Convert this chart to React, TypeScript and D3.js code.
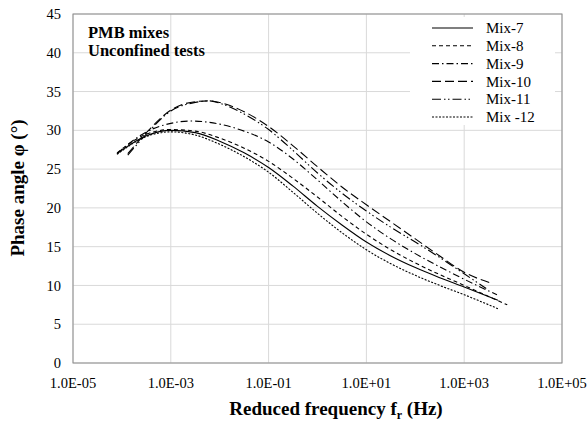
import React from "react";
import * as d3 from "d3";

// log10(reduced frequency) and phase angle values for each mix
const mix7L = [-4.1, -3.5, -3.0, -2.5, -2.0, -1.5, -1.0, -0.5, 0.0, 0.5, 1.0, 1.5, 2.0, 2.5, 3.0, 3.69];
const mix7P = [27.0, 29.3, 30.0, 29.7, 28.6, 27.1, 25.2, 22.8, 20.2, 17.8, 15.6, 13.8, 12.3, 11.0, 9.8, 8.1];
const mix8L = [-4.1, -3.5, -3.0, -2.5, -2.0, -1.5, -1.0, -0.5, 0.0, 0.5, 1.0, 1.5, 2.0, 2.5, 3.0, 3.88];
const mix8P = [27.1, 29.5, 30.1, 29.9, 29.0, 27.7, 26.0, 23.8, 21.4, 18.9, 16.6, 14.6, 12.9, 11.4, 10.0, 7.5];
const mix9L = [-4.1, -3.5, -3.0, -2.6, -2.0, -1.5, -1.0, -0.5, 0.0, 0.5, 1.0, 1.5, 2.0, 2.5, 3.0, 3.67];
const mix9P = [27.0, 29.8, 30.9, 31.2, 30.8, 29.9, 28.5, 26.3, 23.6, 20.8, 18.2, 16.0, 14.1, 12.4, 10.8, 8.8];
const mix10L = [-3.88, -3.5, -3.0, -2.5, -2.2, -2.0, -1.5, -1.0, -0.5, 0.0, 0.5, 1.0, 1.5, 2.0, 2.5, 3.0, 3.55];
const mix10P = [27.0, 29.7, 32.6, 33.7, 33.8, 33.6, 32.4, 30.5, 28.0, 25.3, 22.7, 20.4, 18.2, 16.0, 13.8, 11.7, 10.3];
const mix11L = [-3.88, -3.5, -3.0, -2.5, -2.2, -2.0, -1.5, -1.0, -0.5, 0.0, 0.5, 1.0, 1.5, 2.0, 2.5, 3.0, 3.45];
const mix11P = [26.8, 29.5, 32.5, 33.6, 33.8, 33.5, 32.1, 30.1, 27.4, 24.5, 21.9, 19.6, 17.5, 15.6, 13.6, 11.5, 9.6];
const mix12L = [-4.1, -3.5, -3.0, -2.5, -2.0, -1.5, -1.0, -0.5, 0.0, 0.5, 1.0, 1.5, 2.0, 2.5, 3.0, 3.69];
const mix12P = [26.9, 29.2, 29.8, 29.4, 28.2, 26.6, 24.6, 22.0, 19.3, 16.8, 14.6, 12.8, 11.3, 10.0, 8.8, 7.0];

const seriesNames = ["Mix-7", "Mix-8", "Mix-9", "Mix-10", "Mix-11", "Mix -12"];
const xTickExps = [-5, -3, -1, 1, 3, 5];
const xTickLabels = ["1.0E-05", "1.0E-03", "1.0E-01", "1.0E+01", "1.0E+03", "1.0E+05"];
const yTicks = [0, 5, 10, 15, 20, 25, 30, 35, 40, 45];

const seriesData = [
  { name: seriesNames[0], L: mix7L, P: mix7P, dash: "" },
  { name: seriesNames[1], L: mix8L, P: mix8P, dash: "4,3" },
  { name: seriesNames[2], L: mix9L, P: mix9P, dash: "7,3,1.5,3" },
  { name: seriesNames[3], L: mix10L, P: mix10P, dash: "9,4" },
  { name: seriesNames[4], L: mix11L, P: mix11P, dash: "9,3,1.5,2.5,1.5,3" },
  { name: seriesNames[5], L: mix12L, P: mix12P, dash: "2,1.5" },
];

const FONT = "'Liberation Serif', 'Times New Roman', Times, serif";

export default function App() {
  const W = 588, H = 423;
  const left = 73, right = 562, top = 14, bottom = 363;
  const x = d3.scaleLinear().domain([-5, 5]).range([left, right]);
  const y = d3.scaleLinear().domain([0, 45]).range([bottom, top]);
  const line = d3
    .line<[number, number]>()
    .x((d) => x(d[0]))
    .y((d) => y(d[1]))
    .curve(d3.curveMonotoneX);
  const legX1 = 432, legX2 = 473, legTx = 486;
  const legY0 = 28, legDy = 17.8;
  const ts = (size: number, bold = false): React.CSSProperties => ({
    fontFamily: FONT,
    fontSize: size,
    fontWeight: bold ? "bold" : "normal",
  });

  return (
    <svg width={W} height={H} style={{ position: "absolute", left: 0, top: 0 }}>
      <rect x={0} y={0} width={W} height={H} fill="#fff" />
      {yTicks.map((t) => (
        <line key={"gy" + t} x1={left} x2={right} y1={y(t)} y2={y(t)} stroke="#d9d9d9" strokeWidth={1} />
      ))}
      {xTickExps.map((t) => (
        <line key={"gx" + t} x1={x(t)} x2={x(t)} y1={top} y2={bottom} stroke="#d9d9d9" strokeWidth={1} />
      ))}
      <rect x={left} y={top} width={right - left} height={bottom - top} fill="none" stroke="#8c8c8c" strokeWidth={1} />
      {seriesData.map((s) => (
        <path
          key={s.name}
          d={line(s.L.map((l, i) => [l, s.P[i]] as [number, number])) || ""}
          fill="none"
          stroke="#000"
          strokeWidth={1.1}
          strokeDasharray={s.dash || undefined}
        />
      ))}
      {yTicks.map((t) => (
        <text key={"ty" + t} x={left - 12} y={y(t)} dy="0.35em" textAnchor="end" style={ts(14.5)} fill="#000">
          {t}
        </text>
      ))}
      {xTickExps.map((t, i) => (
        <text key={"tx" + t} x={x(t)} y={388} textAnchor="middle" style={ts(14.5)} fill="#000">
          {xTickLabels[i]}
        </text>
      ))}
      <text x={88} y={38} style={ts(16.5, true)}>PMB mixes</text>
      <text x={88} y={56} style={ts(16.5, true)}>Unconfined tests</text>
      <rect x={410} y={17} width={145} height={108} fill="#fff" />
      {seriesData.map((s, i) => (
        <g key={"lg" + s.name}>
          <line
            x1={legX1}
            x2={legX2}
            y1={legY0 + i * legDy}
            y2={legY0 + i * legDy}
            stroke="#000"
            strokeWidth={1.1}
            strokeDasharray={s.dash || undefined}
          />
          <text x={legTx} y={legY0 + i * legDy} dy="0.35em" style={ts(15)}>
            {s.name}
          </text>
        </g>
      ))}
      <text transform={`translate(23.5, 188) rotate(-90)`} textAnchor="middle" style={ts(19, true)}>
        Phase angle φ (°)
      </text>
      <text x={336} y={415} textAnchor="middle" style={ts(19, true)}>
        Reduced frequency f
        <tspan style={{ fontSize: 12 }} dy={4}>r</tspan>
        <tspan dy={-4}> (Hz)</tspan>
      </text>
    </svg>
  );
}
